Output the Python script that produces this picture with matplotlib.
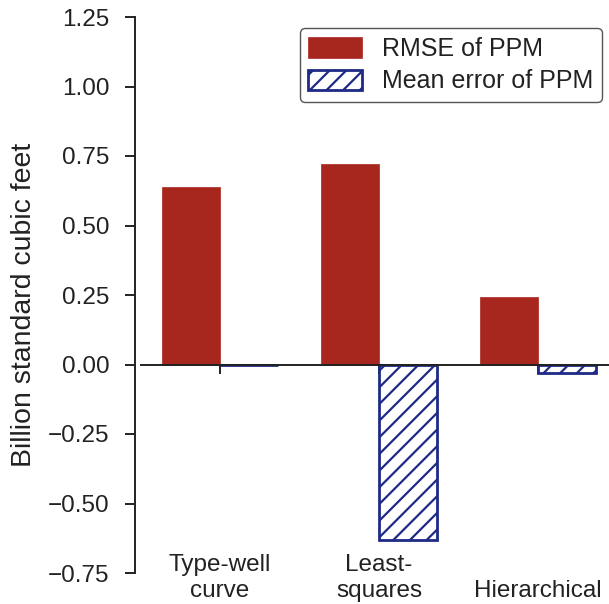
import numpy as np
import matplotlib.pyplot as plt
from matplotlib.transforms import blended_transform_factory

plt.rcParams['font.family'] = ['Liberation Sans', 'DejaVu Sans']
plt.rcParams['hatch.linewidth'] = 1.6

methods = ['Type-well\ncurve', 'Least-\nsquares', 'Hierarchical']
rmse = [0.64, 0.72, 0.243]
mean_err = [-0.003, -0.63, -0.03]

ind = np.arange(len(methods))
width = 0.365
red = '#a7271e'
navy = '#1f2a86'
ink = '#222222'

fig = plt.figure(figsize=(6.09, 6.04), dpi=100)
ax = fig.add_axes([141 / 609, 31 / 604, 468 / 609, 556 / 604])

ax.bar(ind - width / 2, rmse, width, color=red, edgecolor=red, linewidth=0.5,
       label='RMSE of PPM', zorder=2)
ax.bar(ind + width / 2, mean_err, width, facecolor='white', edgecolor=navy,
       hatch='//', linewidth=2, label='Mean error of PPM', zorder=2)

ax.set_xlim(-0.497, 2.447)
ax.set_ylim(-0.75, 1.25)
yt = np.arange(-0.75, 1.26, 0.25)
ax.set_yticks(yt)
ax.set_yticklabels([f'{v:.2f}'.replace('-', '\u2212') for v in yt])

for s in ['top', 'right']:
    ax.spines[s].set_visible(False)
ax.spines['left'].set_position(('outward', 4.3))
ax.spines['bottom'].set_position(('data', 0))
for s in ['left', 'bottom']:
    ax.spines[s].set_linewidth(1.4)
    ax.spines[s].set_color(ink)
ax.set_axisbelow(True)

ax.set_xticks(ind)
ax.tick_params(axis='x', direction='out', length=6.5, width=1.4, color=ink,
               labelbottom=False)
ax.tick_params(axis='y', direction='out', length=7.2, width=1.4, color=ink,
               labelsize=17.5, labelcolor=ink, pad=11)

trans = blended_transform_factory(ax.transData, fig.transFigure)
for x, name in zip(ind, methods):
    ax.text(x, 0.004, name, transform=trans, ha='center', va='bottom',
            multialignment='center', fontsize=17.5, color=ink)

ax.set_ylabel('Billion standard cubic feet', fontsize=20.5, color=ink)
ax.yaxis.set_label_coords(-0.222, 0.482)

leg = ax.legend(loc='upper right', bbox_to_anchor=(602 / 609, 1 - 28 / 604),
                bbox_transform=fig.transFigure, borderaxespad=0, fontsize=18,
                handlelength=2.15, handleheight=0.9, handletextpad=0.8,
                labelspacing=0.35, borderpad=0.35, fancybox=True, framealpha=1)
leg.get_frame().set_edgecolor('#555555')
leg.get_frame().set_linewidth(1.0)
for t in leg.get_texts():
    t.set_color(ink)

fig.savefig('out.png', dpi=100)
